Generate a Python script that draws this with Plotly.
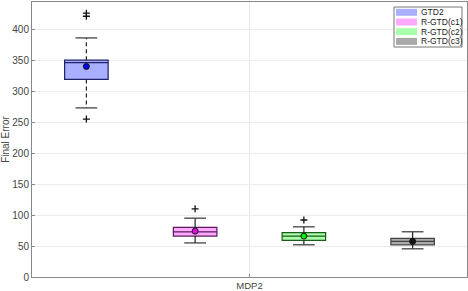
import plotly.graph_objects as go

groups = ["GTD2", "R-GTD(c1)", "R-GTD(c2)", "R-GTD(c3)"]
category = "MDP2"
q1 = [319, 66, 59, 52]
median = [346, 73, 66, 57.5]
q3 = [350, 80, 71.5, 62.5]
lower_whisker = [273, 55, 52, 45.5]
upper_whisker = [386, 95, 81, 73]
means = [340, 74, 66, 57.5]
outliers = [[255, 421, 426], [110], [92], []]

fill_colors = ["#aab0ff", "#ffaaff", "#aaffaa", "#aaaaaa"]
edge_colors = ["#20206a", "#5a1a5a", "#1a5a1a", "#444444"]
mean_colors = ["#0000ee", "#ee00ee", "#00ee00", "#111111"]
whisker_dash = ["4px,3px", "solid", "solid", "solid"]

W, H = 468, 291
ML, MR, MT, MB = 32, 1, 2, 14
PW, PH = W - ML - MR, H - MT - MB

def px(xp):
    return (xp - ML) / PW

def py(yp):
    return (H - MB - yp) / PH

box_w = 0.1
cap_w = 0.05
fig = go.Figure()
for i, g in enumerate(groups):
    pos = 1 + (i - 1.5) * 0.25
    fig.add_trace(go.Box(
        x=[pos], q1=[q1[i]], median=[median[i]], q3=[q3[i]],
        lowerfence=[q1[i]], upperfence=[q3[i]], width=box_w,
        name=g, fillcolor=fill_colors[i],
        line=dict(color=edge_colors[i], width=1.2),
        boxpoints=False, showlegend=False, hoverinfo="skip"))
    fig.add_trace(go.Scatter(
        x=[pos, pos, None, pos, pos],
        y=[q3[i], upper_whisker[i], None, q1[i], lower_whisker[i]],
        mode="lines", line=dict(color="#222222", width=1.2, dash=whisker_dash[i]),
        showlegend=False, hoverinfo="skip"))
    fig.add_trace(go.Scatter(
        x=[pos - cap_w / 2, pos + cap_w / 2, None, pos - cap_w / 2, pos + cap_w / 2],
        y=[upper_whisker[i], upper_whisker[i], None, lower_whisker[i], lower_whisker[i]],
        mode="lines", line=dict(color="#333333", width=1.2),
        showlegend=False, hoverinfo="skip"))
    if outliers[i]:
        fig.add_trace(go.Scatter(
            x=[pos] * len(outliers[i]), y=outliers[i], mode="markers",
            marker=dict(symbol="cross-thin", size=5, line=dict(color="#111111", width=1.3)),
            showlegend=False, hoverinfo="skip"))
    fig.add_trace(go.Scatter(
        x=[pos], y=[means[i]], mode="markers",
        marker=dict(symbol="circle", size=6, color=mean_colors[i], line=dict(color="#111111", width=1)),
        showlegend=False, hoverinfo="skip"))

# custom compact legend
shapes = [dict(type="rect", xref="paper", yref="paper",
               x0=px(394), x1=px(462), y0=py(47), y1=py(7),
               fillcolor="white", line=dict(color="#777777", width=1), layer="above")]
annotations = []
for i, g in enumerate(groups):
    cy = 12.3 + i * 9.7
    shapes.append(dict(type="rect", xref="paper", yref="paper",
                       x0=px(396), x1=px(417), y0=py(cy + 3.5), y1=py(cy - 3.5),
                       fillcolor=fill_colors[i], line=dict(width=0), layer="above"))
    annotations.append(dict(xref="paper", yref="paper", x=px(419), y=py(cy),
                            xanchor="left", yanchor="middle", text=g, showarrow=False,
                            font=dict(size=8.5, color="#222222")))

fig.update_layout(
    width=W, height=H,
    margin=dict(l=ML, r=MR, t=MT, b=MB),
    paper_bgcolor="white", plot_bgcolor="white",
    font=dict(family="Liberation Sans, Arial, sans-serif", size=10, color="#444444"),
    showlegend=False,
    shapes=shapes, annotations=annotations,
    xaxis=dict(range=[0.5, 1.5], tickvals=[1], ticktext=[category],
               showgrid=True, gridcolor="#e6e6e6", zeroline=False,
               showline=True, linecolor="#888888", mirror=True, automargin=False,
               ticks="inside", ticklen=3, tickcolor="#888888", tickfont=dict(size=9.5)),
    yaxis=dict(range=[0, 444], tickvals=[0, 50, 100, 150, 200, 250, 300, 350, 400],
               showgrid=True, gridcolor="#ececec", zeroline=False,
               showline=True, linecolor="#888888", mirror=True, automargin=False,
               ticks="inside", ticklen=3, tickcolor="#888888", tickfont=dict(size=10),
               title=dict(text="Final Error", standoff=2, font=dict(size=10))),
)

fig.write_html("out.html", config={"displayModeBar": False, "staticPlot": True})
with open("out.html", encoding="utf-8") as f:
    html = f.read()
html = html.replace("<body>", '<body style="margin:0;padding:0;overflow:hidden">', 1)
with open("out.html", "w", encoding="utf-8") as f:
    f.write(html)
